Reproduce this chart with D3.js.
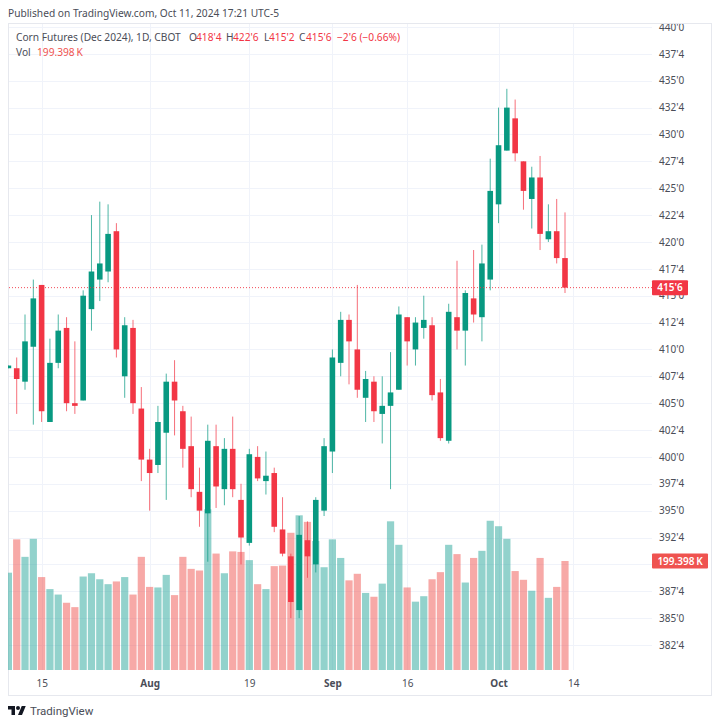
<!DOCTYPE html>
<html>
<head>
<meta charset="utf-8">
<script src="https://cdn.jsdelivr.net/npm/d3@7"></script>
<style>
html,body{margin:0;padding:0;background:#fff}
svg{display:block}
text{font-family:"Noto Sans",sans-serif}
</style>
</head>
<body>
<svg id="c" width="720" height="726"></svg>
<script>
const opens=[408.25,408.25,407,410.25,416,403.25,408.75,412,405,405.25,413.75,416.5,417.25,421,407.5,412,404.5,399.75,399.25,402.25,407,404.25,401,396.75,394.75,401,397,400.75,396,392,400,397.75,398.5,393.25,390.75,385.75,392.25,390,395,400.5,408.75,412.75,410,405.5,407,404,404.75,406.25,413,410,412,412.25,406,401.5,413,411.75,414.75,413,416.5,423.5,428.5,431.5,427.5,424,426,420.25,421,418.5];
const highs=[408.5,409.25,413.25,416.5,416,411,413.25,413,410.75,415.5,422.5,423.75,423.5,421.75,413,412.75,406.5,400.75,404.75,407.75,409,404.75,403.75,399,403,403,401.75,403.75,397.5,400.75,401,400.5,399,396.25,391,394.5,394,396.25,401.75,410,413.5,413.25,416,408,407.5,407.5,409.75,414,413,413,415,413,407.25,414.25,418.25,415.5,419.25,419.75,427.75,432.5,434.25,433.25,427.5,427,428,423.5,424,422.75];
const lows=[408.25,404,406.25,403,403.25,403.25,408.25,404.25,404,405.25,411.75,414.5,416.25,409.25,405.5,404,397.75,395,398.5,396,402,399,396.25,393.5,390.25,395.25,395.5,396.25,390,391.75,397.75,396.5,393,390.75,385,385,388.75,389.25,394.5,398.5,407.5,406.75,405.5,403.25,403.25,401.25,397,406.25,408.5,408.5,411,405.25,401.5,401.25,410,408.5,412.5,410.75,415.5,421.75,428.5,427.5,423,421.25,419.25,420,418,415.25];
const closes=[408.5,407.25,410.75,414.75,404.25,408.75,411.75,405,404.75,415,417.25,418,420.75,410,412.25,405,399.75,398.5,403.25,407,405.25,400.75,397,395,401.5,397.25,400.75,397,392.5,400.25,398,398.25,393.5,391,386.5,392.75,390.75,396,401,409.25,412.75,410.75,406.25,407.25,404.25,404.75,406,413.25,410.75,412.5,412.75,405.75,401.75,413.5,411.75,415.25,413.25,418,424.75,429,432.5,428.25,424.75,426,420.75,421,418.5,415.75];
const volumes=[178,239,207,240,170,148,138,123,115,171,177,166,157,162,170,138,207,152,151,174,137,207,185,182,294,213,177,217,216,201,157,148,190,191,251,283,271,236,188,239,205,164,176,141,134,158,272,229,151,125,135,166,179,229,212,160,205,218,273,263,240,181,165,145,205,132,152,199.398];
const gridPrices=[382.5,385,387.5,390,392.5,395,397.5,400,402.5,405,407.5,410,412.5,415,417.5,420,422.5,425,427.5,430,432.5,435,437.5,440];
const priceTicks=[382.5,385,387.5,392.5,395,397.5,400,402.5,405,407.5,410,412.5,415,417.5,420,422.5,425,427.5,430,432.5,435,437.5,440];
const timeTickIdx=[4,17,29,39,48,59,68];
const timeTickLabels=["15","Aug","19","Sep","16","Oct","14"];
const boldTimeLabels=["Aug","Sep","Oct"];
const publishedText="Published on TradingView.com, Oct 11, 2024 17:21 UTC-5";
const symbolText="Corn Futures (Dec 2024), 1D, CBOT";
const ohlcLabels=["O","H","L","C"];
const ohlcValues=["418'4","422'6","415'2","415'6"];
const changeText="\u22122'6 (\u22120.66%)";
const volText="199.398\u2009K";
const lastClose=415.75, lastVol=199.398;

const UP="#089981",DOWN="#F23645",UPV="rgba(38,166,154,.5)",DOWNV="rgba(239,83,80,.5)";
const TXT="#4a4d57",GRID="#f0f3fa",BORDER="#e6e8ee";
const FS=10.2;

const x=d3.scaleLinear().domain([0,67]).range([8.4,565]);
const y=d3.scaleLinear().domain([382.5,440]).range([645,27]);
const v=d3.scaleLinear().domain([0,lastVol]).range([670,561]);
const fmt=p=>Math.floor(p)+"'"+Math.round((p-Math.floor(p))*8);

const svg=d3.select("#c");
const defs=svg.append("defs");
defs.append("clipPath").attr("id","pane").append("rect").attr("x",8).attr("y",24).attr("width",644).attr("height",646);
defs.append("clipPath").attr("id","ax").append("rect").attr("x",652).attr("y",24).attr("width",59).attr("height",646);

// frame
svg.append("rect").attr("x",8.5).attr("y",23.5).attr("width",703).attr("height",672).attr("fill","none").attr("stroke",BORDER);

// grid
svg.append("g").selectAll("line").data(gridPrices).join("line")
 .attr("x1",9).attr("x2",652).attr("y1",d=>Math.round(y(d))+.5).attr("y2",d=>Math.round(y(d))+.5).attr("stroke",GRID);
svg.append("g").selectAll("line").data(timeTickIdx).join("line")
 .attr("x1",d=>Math.round(x(d))+.5).attr("x2",d=>Math.round(x(d))+.5).attr("y1",24).attr("y2",670).attr("stroke",GRID);

const idx=d3.range(opens.length);
const pane=svg.append("g").attr("clip-path","url(#pane)");
// volume
pane.append("g").selectAll("rect").data(idx).join("rect")
 .attr("x",i=>x(i)-3.6).attr("width",7.2)
 .attr("y",i=>v(volumes[i])).attr("height",i=>v(0)-v(volumes[i]))
 .attr("fill",i=>closes[i]>=opens[i]?UPV:DOWNV);
// wicks
pane.append("g").selectAll("line").data(idx).join("line")
 .attr("x1",i=>x(i)).attr("x2",i=>x(i)).attr("y1",i=>y(highs[i])).attr("y2",i=>y(lows[i]))
 .attr("stroke",i=>closes[i]>=opens[i]?UP:DOWN).attr("stroke-width",.9).attr("stroke-opacity",.8);
// bodies
pane.append("g").selectAll("rect").data(idx).join("rect")
 .attr("x",i=>x(i)-2.8).attr("width",5.6)
 .attr("y",i=>y(Math.max(opens[i],closes[i])))
 .attr("height",i=>Math.max(1,Math.abs(y(opens[i])-y(closes[i]))))
 .attr("fill",i=>closes[i]>=opens[i]?UP:DOWN);
// last price line
svg.append("line").attr("x1",9).attr("x2",652).attr("y1",y(lastClose)).attr("y2",y(lastClose))
 .attr("stroke",DOWN).attr("stroke-width",.9).attr("stroke-dasharray","1 2");

// price axis
const ya=svg.append("g").attr("clip-path","url(#ax)").append("g").attr("transform","translate(652,0)")
 .call(d3.axisRight(y).tickValues(priceTicks).tickFormat(fmt).tickSize(0).tickPadding(7));
ya.select(".domain").remove();
ya.selectAll("text").attr("font-size",10).attr("fill",TXT).style("font-family",'"Noto Sans",sans-serif');

// time axis
const labelOf=d=>timeTickLabels[timeTickIdx.indexOf(d)];
const xa=svg.append("g").attr("transform","translate(0,670)")
 .call(d3.axisBottom(x).tickValues(timeTickIdx).tickFormat(labelOf).tickSize(0).tickPadding(10));
xa.select(".domain").remove();
xa.selectAll("text").attr("font-size",10).attr("fill",TXT).style("font-family",'"Noto Sans",sans-serif')
 .attr("font-weight",d=>boldTimeLabels.includes(labelOf(d))?700:400);

// tags
const tag=(yc,h,x1,col,t)=>{
 svg.append("rect").attr("x",652).attr("y",yc-h/2).attr("width",x1-652).attr("height",h).attr("rx",1).attr("fill",col);
 svg.append("text").attr("x",(652+x1)/2).attr("y",yc+3.7).attr("text-anchor","middle").attr("font-size",10).attr("font-weight",600).attr("fill","#fff").text(t);
};
tag(y(lastClose),15,688,DOWN,fmt(lastClose));
tag(v(lastVol),15,708,"#ef5350",volText);

// header
svg.append("text").attr("x",8).attr("y",17).attr("font-size",FS).attr("fill",TXT).text(publishedText);
svg.append("text").attr("x",16).attr("y",41).attr("font-size",FS).attr("fill",TXT).text(symbolText);
const lx=[189,226,264,299], vx=[196,233,269,306];
ohlcLabels.forEach((l,i)=>{
 svg.append("text").attr("x",lx[i]).attr("y",41).attr("font-size",FS).attr("fill",TXT).text(l);
 svg.append("text").attr("x",vx[i]).attr("y",41).attr("font-size",FS).attr("fill",DOWN).text(ohlcValues[i]);
});
svg.append("text").attr("x",337).attr("y",41).attr("font-size",FS).attr("fill",DOWN).text(changeText);
svg.append("text").attr("x",16).attr("y",56).attr("font-size",FS).attr("fill",TXT).text("Vol");
svg.append("text").attr("x",37).attr("y",56).attr("font-size",FS).attr("fill","#ef5350").text(volText);

// footer logo + name
svg.append("g").attr("transform","translate(8,704) scale(.5)").call(g=>{
 g.append("path").attr("d","M14 22H7V11H0V4h14v18zM28 22h-8l7.5-18h8L28 22z").attr("fill","#131722");
 g.append("circle").attr("cx",20).attr("cy",8).attr("r",4).attr("fill","#131722");
});
svg.append("text").attr("x",30).attr("y",715).attr("font-size",11.5).style("font-family","Roboto,sans-serif").attr("fill",TXT).text("TradingView");
</script>
</body>
</html>
